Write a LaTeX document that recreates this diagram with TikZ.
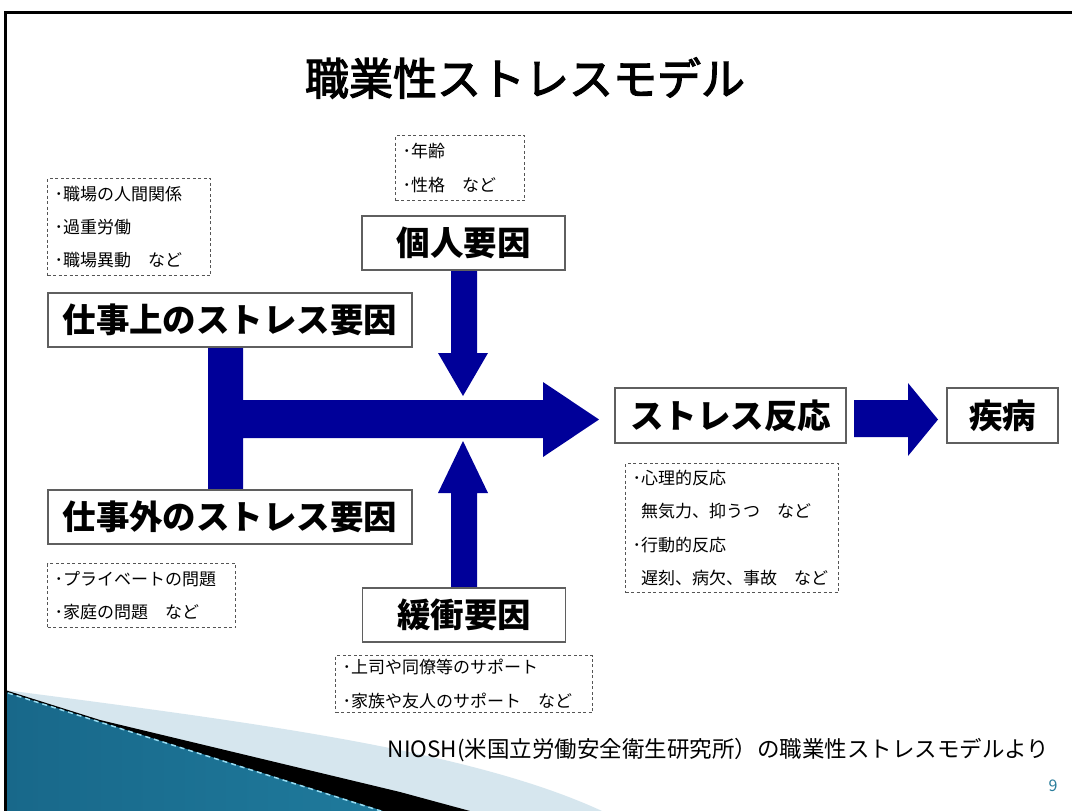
\documentclass[tikz,border=0pt]{standalone}
\usepackage{fontspec}
\setmainfont{Noto Sans CJK JP}
\newfontfamily\jpfb{Noto Sans CJK JP}[FakeBold=2.7]
\definecolor{navyc}{RGB}{0,0,153}
\definecolor{boxgray}{RGB}{95,95,95}
\definecolor{dashgray}{RGB}{85,85,85}
\definecolor{lightband}{RGB}{214,230,238}
\definecolor{tealdark}{RGB}{24,104,138}
\definecolor{teallight}{RGB}{92,182,214}
\definecolor{tealright}{RGB}{31,122,156}
\definecolor{cyanline}{RGB}{150,220,242}
\definecolor{numteal}{RGB}{42,125,155}
\begin{document}
\begin{tikzpicture}[x=1pt,y=-1pt,
  solidbox/.style={draw=boxgray, line width=1.5pt, fill=white, inner sep=0pt, font=\fontsize{33.5}{36}\selectfont\bfseries},
  dbox/.style={draw=dashgray, line width=1.1pt, dash pattern=on 3pt off 2.5pt, inner xsep=7pt, inner ysep=0pt, align=left, anchor=north west, font=\fontsize{17}{33.3}\selectfont},
  navyshape/.style={fill=navyc, draw=none}]
\useasboundingbox (0,0) rectangle (1072,811);
\fill[white] (0,0) rectangle (1072,811);

% bottom-left decoration
\fill[lightband] (5,690) .. controls (250,722) and (470,750) .. (602,811) -- (5,811) -- cycle;
\fill[black] (5,690) -- (100,720) -- (400,792) -- (470,811) -- (5,811) -- cycle;
\shade[left color=tealdark, middle color=teallight, right color=tealright] (6,692) -- (383,811) -- (6,811) -- cycle;
\draw[cyanline, dash pattern=on 5pt off 4pt, line width=1.5pt] (8,693) -- (381,811);

% slide border
\draw[line width=3pt] (5,811) -- (5,12) -- (1072,12);

% title
\node[font=\fontsize{44}{48}\selectfont\jpfb] (title) at (525,78) {職業性ストレスモデル};

% arrows
\fill[navyshape] (208,347) -- (243,347) -- (243,400) -- (543,400) -- (543,382) -- (599,419.5) -- (543,457) -- (543,438) -- (243,438) -- (243,490) -- (208,490) -- cycle;
\fill[navyshape] (451,270) -- (477,270) -- (477,353) -- (488,353) -- (463,396) -- (438,353) -- (451,353) -- cycle;
\fill[navyshape] (451,588) -- (477,588) -- (477,493) -- (488,493) -- (463,441) -- (438,493) -- (451,493) -- cycle;
\fill[navyshape] (854,400) -- (908,400) -- (908,383) -- (938,419.5) -- (908,456) -- (908,437) -- (854,437) -- cycle;

% solid boxes
\node[solidbox, minimum width=364pt, minimum height=54pt] (work1) at (230,320) {仕事上のストレス要因};
\node[solidbox, minimum width=364pt, minimum height=54pt] (work2) at (230,517) {仕事外のストレス要因};
\node[solidbox, minimum width=203pt, minimum height=54pt] (indiv) at (463.5,243) {個人要因};
\node[solidbox, minimum width=203pt, minimum height=54pt] (buffer) at (464,615) {緩衝要因};
\node[solidbox, minimum width=231pt, minimum height=55pt] (react) at (730.5,415.5) {ストレス反応};
\node[solidbox, minimum width=111pt, minimum height=55pt] (ill) at (1002.5,415.5) {疾病};

% dashed boxes
\node[dbox, minimum width=163pt, minimum height=97pt, text width=149pt] (d1) at (47,178) {･職場の人間関係\\･過重労働\\･職場異動　など};
\node[dbox, minimum width=129pt, minimum height=65pt, text width=115pt] (d2) at (395,135) {･年齢\\･性格　など};
\node[dbox, minimum width=188pt, minimum height=64pt, text width=174pt] (d3) at (47,563) {･プライベートの問題\\･家庭の問題　など};
\node[dbox, minimum width=257pt, minimum height=57pt, text width=243pt] (d4) at (335,655) {･上司や同僚等のサポート\\･家族や友人のサポート　など};
\node[dbox, minimum width=213pt, minimum height=129pt, text width=199pt] (d5) at (625,463) {･心理的反応\\\hspace*{0.5em}無気力、抑うつ　など\\･行動的反応\\\hspace*{0.5em}遅刻、病欠、事故　など};

% footer
\node[anchor=east, font=\fontsize{22.5}{25}\selectfont] (src) at (1053,750) {NIOSH(米国立労働安全衛生研究所）の職業性ストレスモデルより};
\node[text=numteal, font=\fontsize{16}{20}\selectfont] (pnum) at (1053,786) {9};
\end{tikzpicture}
\end{document}
